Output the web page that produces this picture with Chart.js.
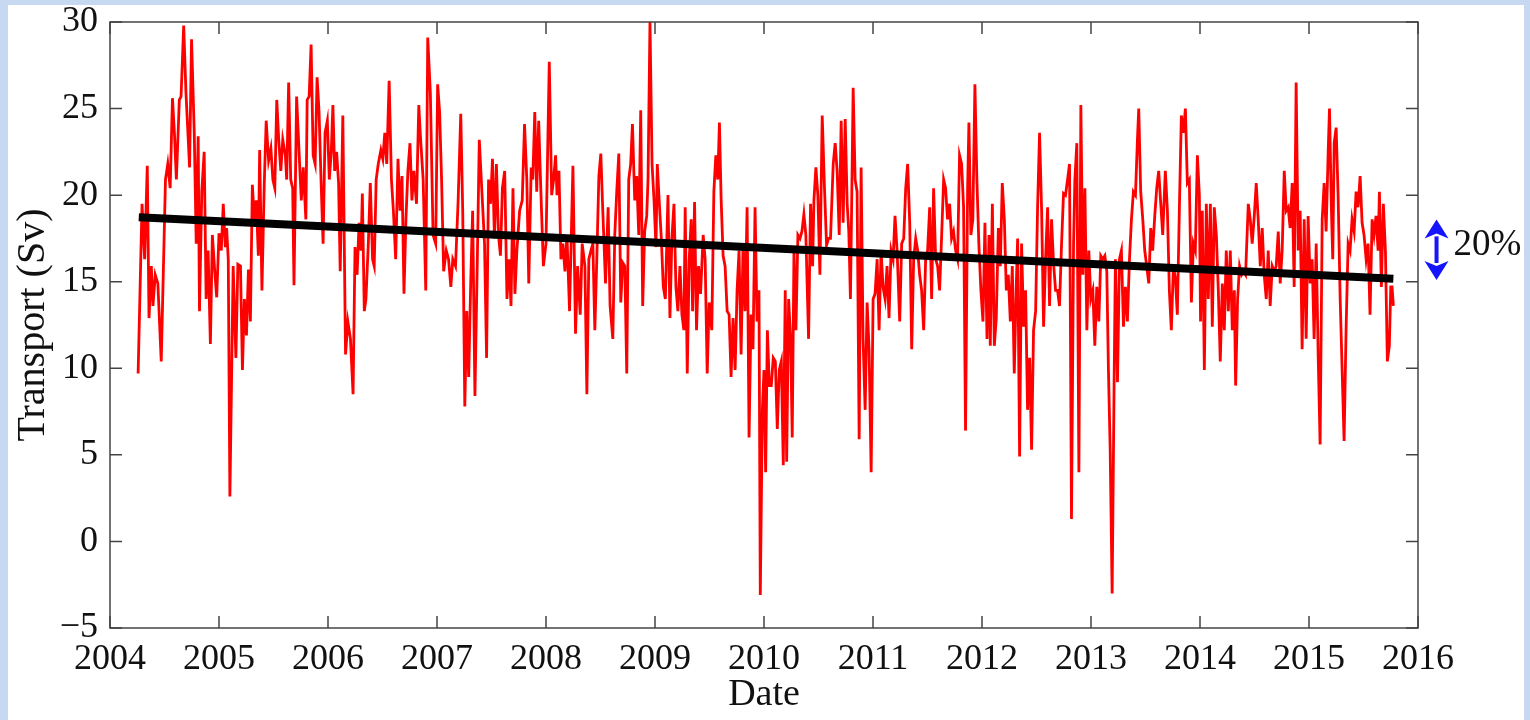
<!DOCTYPE html>
<html lang="en">
<head>
    <meta charset="UTF-8">
    <title>Transport (Sv) 2004-2016</title>
    <script src="https://cdn.jsdelivr.net/npm/chart.js"></script>
    <style>
        body { margin: 0; width: 1530px; height: 720px; overflow: hidden; position: relative; background: #c6d9f1; }
        #panel { position: absolute; left: 8px; top: 5px; width: 1516px; height: 715px; background: #fff; }
        #chart { position: absolute; left: 0; top: 0; }
    </style>
</head>
<body>
    <div id="panel"></div>
    <canvas id="chart" width="1530" height="720"></canvas>
    <script>
        // Transport time series (decimal years / Sv)
        const dates = [
            // 2004
            2004.258, 2004.294, 2004.318, 2004.342, 2004.358, 2004.379, 2004.394, 2004.415, 2004.439, 2004.470,
            2004.509, 2004.530, 2004.552, 2004.573, 2004.591, 2004.609, 2004.636, 2004.652, 2004.676, 2004.697,
            2004.718, 2004.730, 2004.748, 2004.773, 2004.791, 2004.809, 2004.821, 2004.842, 2004.864, 2004.882,
            2004.900, 2004.921, 2004.939, 2004.961, 2004.979,
            // 2005
            2005.000, 2005.021, 2005.039, 2005.058, 2005.070, 2005.085, 2005.100, 2005.130, 2005.155, 2005.173,
            2005.197, 2005.215, 2005.233, 2005.252, 2005.270, 2005.288, 2005.306, 2005.324, 2005.342, 2005.361,
            2005.373, 2005.394, 2005.415, 2005.433, 2005.455, 2005.476, 2005.494, 2005.512, 2005.530, 2005.548,
            2005.567, 2005.585, 2005.609, 2005.621, 2005.639, 2005.658, 2005.676, 2005.688, 2005.712, 2005.736,
            2005.755, 2005.773, 2005.797, 2005.809, 2005.827, 2005.845, 2005.864, 2005.882, 2005.900, 2005.918,
            2005.936, 2005.955, 2005.973, 2005.994,
            // 2006
            2006.012, 2006.030, 2006.045, 2006.061, 2006.079, 2006.097, 2006.112, 2006.136, 2006.161, 2006.182,
            2006.206, 2006.230, 2006.248, 2006.267, 2006.285, 2006.303, 2006.315, 2006.333, 2006.348, 2006.370,
            2006.388, 2006.409, 2006.424, 2006.442, 2006.461, 2006.485, 2006.503, 2006.521, 2006.539, 2006.561,
            2006.582, 2006.600, 2006.621, 2006.642, 2006.661, 2006.679, 2006.697, 2006.715, 2006.733, 2006.752,
            2006.770, 2006.788, 2006.812, 2006.833, 2006.848, 2006.873, 2006.897, 2006.915, 2006.939, 2006.964,
            2006.988,
            // 2007
            2007.006, 2007.024, 2007.042, 2007.061, 2007.085, 2007.106, 2007.127, 2007.145, 2007.170, 2007.194,
            2007.218, 2007.236, 2007.255, 2007.273, 2007.291, 2007.309, 2007.327, 2007.348, 2007.370, 2007.388,
            2007.412, 2007.436, 2007.455, 2007.473, 2007.491, 2007.509, 2007.527, 2007.545, 2007.564, 2007.582,
            2007.600, 2007.621, 2007.642, 2007.661, 2007.679, 2007.697, 2007.715, 2007.733, 2007.758, 2007.782,
            2007.803, 2007.824, 2007.842, 2007.864, 2007.879, 2007.897, 2007.915, 2007.933, 2007.952, 2007.976,
            2008.000,
            // 2008
            2008.030, 2008.052, 2008.070, 2008.088, 2008.101, 2008.119, 2008.137, 2008.155, 2008.174, 2008.192,
            2008.216, 2008.247, 2008.271, 2008.290, 2008.314, 2008.332, 2008.357, 2008.375, 2008.393, 2008.412,
            2008.430, 2008.448, 2008.466, 2008.485, 2008.503, 2008.521, 2008.546, 2008.570, 2008.588, 2008.613,
            2008.631, 2008.649, 2008.668, 2008.686, 2008.704, 2008.723, 2008.741, 2008.759, 2008.777, 2008.793,
            2008.814, 2008.832, 2008.851, 2008.869, 2008.887, 2008.905, 2008.924, 2008.936, 2008.954, 2008.973,
            2008.991,
            // 2009
            2009.009, 2009.021, 2009.040, 2009.058, 2009.076, 2009.095, 2009.119, 2009.137, 2009.155, 2009.174,
            2009.192, 2009.210, 2009.229, 2009.247, 2009.265, 2009.277, 2009.296, 2009.314, 2009.332, 2009.345,
            2009.363, 2009.381, 2009.399, 2009.418, 2009.442, 2009.460, 2009.479, 2009.497, 2009.521, 2009.540,
            2009.558, 2009.576, 2009.591, 2009.607, 2009.625, 2009.643, 2009.662, 2009.680, 2009.698, 2009.716,
            2009.735, 2009.753, 2009.771, 2009.790, 2009.808, 2009.826, 2009.845, 2009.863, 2009.881, 2009.899,
            2009.918, 2009.936, 2009.954, 2009.966, 2009.985,
            // 2010
            2010.000, 2010.015, 2010.031, 2010.049, 2010.067, 2010.085, 2010.104, 2010.122, 2010.140, 2010.159,
            2010.177, 2010.195, 2010.208, 2010.226, 2010.244, 2010.259, 2010.275, 2010.293, 2010.311, 2010.330,
            2010.348, 2010.366, 2010.384, 2010.409, 2010.427, 2010.446, 2010.458, 2010.476, 2010.494, 2010.513,
            2010.534, 2010.555, 2010.574, 2010.592, 2010.610, 2010.635, 2010.653, 2010.671, 2010.690, 2010.708,
            2010.726, 2010.745, 2010.763, 2010.778, 2010.793, 2010.818, 2010.836, 2010.854, 2010.873, 2010.891,
            2010.909, 2010.928, 2010.946, 2010.964, 2010.983,
            // 2011
            2011.001, 2011.019, 2011.038, 2011.056, 2011.074, 2011.092, 2011.111, 2011.129, 2011.147, 2011.166,
            2011.184, 2011.202, 2011.221, 2011.245, 2011.263, 2011.282, 2011.300, 2011.318, 2011.337, 2011.355,
            2011.373, 2011.392, 2011.410, 2011.428, 2011.446, 2011.465, 2011.483, 2011.501, 2011.520, 2011.538,
            2011.556, 2011.575, 2011.593, 2011.611, 2011.630, 2011.648, 2011.666, 2011.684, 2011.703, 2011.721,
            2011.739, 2011.758, 2011.776, 2011.794, 2011.813, 2011.831, 2011.849, 2011.868, 2011.880, 2011.898,
            2011.916, 2011.935, 2011.953, 2011.971, 2011.990,
            // 2012
            2012.009, 2012.027, 2012.046, 2012.064, 2012.076, 2012.095, 2012.113, 2012.131, 2012.150, 2012.168,
            2012.186, 2012.205, 2012.223, 2012.241, 2012.260, 2012.278, 2012.296, 2012.315, 2012.327, 2012.345,
            2012.363, 2012.382, 2012.400, 2012.418, 2012.437, 2012.455, 2012.473, 2012.492, 2012.510, 2012.528,
            2012.547, 2012.565, 2012.583, 2012.602, 2012.620, 2012.638, 2012.656, 2012.675, 2012.693, 2012.711,
            2012.730, 2012.748, 2012.766, 2012.785, 2012.803, 2012.821, 2012.840, 2012.852, 2012.870, 2012.889,
            2012.907, 2012.925, 2012.944, 2012.962, 2012.980, 2012.998,
            // 2013
            2013.017, 2013.035, 2013.053, 2013.072, 2013.090, 2013.108, 2013.127, 2013.145, 2013.160, 2013.176,
            2013.194, 2013.212, 2013.224, 2013.243, 2013.261, 2013.279, 2013.298, 2013.316, 2013.334, 2013.353,
            2013.371, 2013.389, 2013.408, 2013.426, 2013.438, 2013.456, 2013.475, 2013.493, 2013.511, 2013.530,
            2013.548, 2013.566, 2013.585, 2013.603, 2013.621, 2013.640, 2013.658, 2013.682, 2013.701, 2013.719,
            2013.737, 2013.756, 2013.774, 2013.792, 2013.811, 2013.829, 2013.847, 2013.866, 2013.884, 2013.902,
            2013.921, 2013.939, 2013.957, 2013.976, 2013.994,
            // 2014
            2014.005, 2014.021, 2014.040, 2014.058, 2014.076, 2014.095, 2014.113, 2014.131, 2014.150, 2014.168,
            2014.186, 2014.205, 2014.223, 2014.241, 2014.260, 2014.278, 2014.296, 2014.315, 2014.327, 2014.345,
            2014.363, 2014.382, 2014.400, 2014.418, 2014.443, 2014.461, 2014.479, 2014.498, 2014.516, 2014.534,
            2014.553, 2014.571, 2014.589, 2014.608, 2014.626, 2014.644, 2014.663, 2014.681, 2014.699, 2014.718,
            2014.736, 2014.754, 2014.773, 2014.791, 2014.809, 2014.827, 2014.846, 2014.864, 2014.882, 2014.901,
            2014.919, 2014.937, 2014.956, 2014.974, 2014.992,
            // 2015
            2015.011, 2015.029, 2015.047, 2015.066, 2015.084, 2015.102, 2015.121, 2015.139, 2015.157, 2015.176,
            2015.188, 2015.206, 2015.218, 2015.231, 2015.249, 2015.267, 2015.286, 2015.304, 2015.322, 2015.340,
            2015.359, 2015.377, 2015.395, 2015.414, 2015.432, 2015.450, 2015.469, 2015.487, 2015.505, 2015.524,
            2015.542, 2015.560, 2015.579, 2015.597, 2015.615, 2015.634, 2015.646, 2015.664, 2015.682, 2015.701,
            2015.719, 2015.737, 2015.750, 2015.762, 2015.774
        ];

        const transport = [
            // 2004
            9.7, 19.5, 16.3, 21.7, 12.9, 15.9, 13.6, 15.4, 14.9, 10.4,
            20.9, 21.8, 20.4, 25.6, 23.6, 20.9, 25.5, 25.7, 29.8, 25.9,
            23.2, 21.6, 29.0, 23.6, 17.2, 23.4, 13.3, 20.2, 22.5, 14.0,
            16.8, 11.4, 17.7, 15.6, 14.1,
            // 2005
            17.8, 16.8, 19.5, 17.0, 18.1, 16.3, 2.6, 15.9, 10.6, 16.0,
            15.9, 9.9, 14.0, 11.9, 15.7, 12.7, 20.6, 18.6, 19.7, 16.5,
            22.6, 14.5, 20.6, 24.3, 22.0, 22.7, 20.9, 20.4, 25.5, 23.2,
            21.4, 23.2, 22.3, 20.9, 26.5, 20.9, 20.4, 14.8, 25.7, 22.3,
            19.7, 21.6, 18.6, 25.5, 25.7, 28.7, 22.3, 21.8, 26.8, 24.8,
            20.9, 17.2, 23.6, 24.3,
            // 2006
            20.9, 22.5, 25.2, 21.4, 22.5, 20.7, 15.6, 24.6, 10.8, 12.7,
            11.7, 8.5, 17.0, 15.4, 18.4, 16.8, 20.1, 13.3, 14.0, 17.2,
            20.7, 16.3, 15.9, 20.9, 21.8, 22.6, 22.1, 23.6, 21.8, 26.6,
            20.9, 19.1, 16.3, 22.1, 19.1, 21.1, 14.3, 18.6, 21.4, 23.0,
            19.7, 21.4, 19.5, 25.2, 23.4, 20.9, 14.5, 29.1, 25.9, 17.7,
            17.2,
            // 2007
            26.4, 24.8, 20.9, 15.6, 16.8, 16.3, 14.7, 16.3, 15.9, 19.7,
            24.7, 19.1, 7.8, 13.3, 9.5, 14.9, 19.1, 8.4, 16.3, 23.2,
            20.2, 17.2, 10.6, 20.9, 19.5, 22.1, 17.5, 21.8, 17.7, 16.5,
            20.4, 21.4, 14.0, 16.3, 13.6, 20.4, 14.3, 16.8, 19.1, 19.7,
            24.1, 20.9, 14.9, 21.6, 20.9, 24.8, 20.2, 24.3, 20.4, 15.9,
            17.2,
            // 2008
            27.7, 20.0, 20.9, 22.3, 20.0, 21.4, 16.3, 17.2, 15.6, 17.7,
            13.3, 21.7, 12.0, 15.9, 13.1, 17.2, 15.9, 8.5, 16.3, 16.8,
            17.2, 12.2, 16.3, 21.1, 22.4, 19.1, 14.9, 19.3, 13.6, 11.7,
            17.7, 20.2, 22.4, 13.8, 16.1, 15.9, 9.7, 20.9, 21.8, 24.1,
            19.7, 21.1, 17.7, 24.9, 13.6, 17.9, 18.8, 20.9, 30.0, 21.8,
            19.7,
            // 2009
            17.0, 21.8, 19.5, 17.5, 14.7, 14.0, 20.0, 12.9, 17.5, 19.5,
            14.7, 13.3, 15.9, 13.1, 12.2, 19.3, 9.7, 16.3, 18.6, 13.3,
            19.6, 12.2, 15.9, 14.3, 17.7, 16.3, 9.7, 13.8, 12.2, 20.2,
            22.3, 20.9, 24.2, 19.7, 16.5, 15.9, 13.3, 13.1, 9.5, 12.9,
            9.9, 14.5, 16.8, 10.8, 17.2, 13.3, 19.3, 6.0, 13.1, 11.1,
            19.3, 12.7, 14.5, -3.1, 7.6,
            // 2010
            9.9, 4.0, 12.2, 9.0, 9.0, 10.6, 10.4, 6.5, 9.9, 10.4,
            4.4, 14.5, 4.6, 14.0, 11.7, 6.0, 16.8, 12.2, 17.7, 17.5,
            17.9, 18.9, 17.7, 11.7, 19.5, 15.9, 19.7, 21.6, 20.0, 15.4,
            24.6, 20.4, 17.1, 17.5, 17.5, 21.8, 23.0, 21.4, 17.7, 24.3,
            18.4, 24.4, 19.5, 17.9, 14.0, 26.2, 20.9, 20.2, 5.9, 21.6,
            11.7, 7.6, 13.8, 11.1, 4.0,
            // 2011
            14.0, 14.3, 16.3, 12.2, 16.8, 14.7, 14.0, 15.9, 12.9, 16.8,
            16.3, 18.8, 16.8, 12.7, 17.2, 17.5, 20.4, 21.8, 18.4, 11.1,
            16.3, 17.5, 16.8, 15.4, 14.5, 12.2, 16.3, 16.8, 19.3, 14.0,
            20.4, 16.3, 15.9, 14.5, 17.7, 20.9, 20.4, 18.6, 19.5, 17.5,
            17.9, 16.8, 16.3, 22.3, 21.8, 19.3, 6.4, 20.4, 24.2, 17.7,
            18.6, 26.4, 20.9, 17.2, 14.5,
            // 2012
            12.7, 18.4, 11.7, 17.7, 11.3, 19.5, 11.3, 12.9, 18.1, 15.9,
            20.7, 18.6, 14.5, 15.4, 12.7, 15.9, 9.7, 14.9, 17.5, 4.9,
            17.2, 12.4, 14.5, 7.6, 10.6, 5.3, 12.2, 13.3, 19.3, 23.6,
            19.1, 12.4, 16.3, 19.3, 13.6, 18.6, 16.1, 14.5, 14.5, 13.6,
            17.2, 20.1, 20.0, 20.9, 21.8, 1.3, 17.2, 20.9, 23.0, 4.0,
            25.2, 15.4, 20.4, 12.2, 16.8, 14.0,
            // 2013
            14.5, 11.3, 14.7, 12.7, 16.5, 16.3, 16.5, 15.6, 9.9, 5.3,
            -3.0, 9.2, 16.3, 9.2, 16.3, 16.8, 12.4, 14.7, 12.7, 16.3,
            18.6, 20.2, 20.0, 23.2, 25.0, 20.2, 18.6, 16.8, 15.9, 14.9,
            18.1, 16.8, 18.8, 20.4, 21.4, 19.5, 17.7, 21.4, 19.1, 14.5,
            12.2, 15.9, 15.2, 13.1, 19.3, 24.6, 23.6, 25.0, 20.7, 20.9,
            13.8, 17.2, 16.8, 22.3, 20.0,
            // 2014
            12.7, 19.1, 9.9, 19.5, 14.0, 19.5, 12.4, 19.3, 17.7, 14.5,
            10.4, 14.9, 12.2, 16.8, 13.3, 16.8, 12.2, 14.5, 9.0, 14.0,
            15.9, 15.4, 15.6, 15.4, 19.5, 18.6, 17.2, 18.8, 20.7, 18.6,
            15.9, 18.1, 15.4, 14.0, 16.8, 13.6, 15.9, 15.6, 15.9, 17.9,
            14.9, 16.8, 21.4, 19.1, 19.3, 18.1, 20.7, 14.7, 26.5, 16.8,
            19.1, 11.1, 18.6, 11.7, 18.8,
            // 2015
            14.9, 16.3, 11.7, 17.2, 10.8, 5.6, 18.6, 20.7, 17.9, 22.5,
            25.0, 19.1, 16.3, 23.0, 23.9, 20.0, 14.0, 9.9, 5.8, 12.2,
            17.2, 16.8, 18.6, 17.9, 20.2, 19.3, 21.1, 18.4, 17.7, 16.3,
            17.2, 13.1, 18.6, 17.7, 18.8, 16.8, 20.2, 14.7, 19.5, 16.8,
            10.4, 11.3, 14.7, 14.7, 13.6
        ];

        // linear trend drawn over the series
        const trendDates = [2004.264, 2015.774];
        const trendValues = [18.72, 15.17];

        // the "20%" marker on the right of the axes
        const arrowDate = 2016.17;
        const arrowRange = [18.6, 15.1];
        const arrowLabel = '20%';

        const xTicks = { min: 2004, max: 2016, step: 1 };
        const yTicks = { min: -5, max: 30, step: 5 };

        const FONT = "'Liberation Serif', 'Times New Roman', serif";

        // MATLAB style box with inward ticks on all four sides
        const boxPlugin = {
            id: 'box',
            afterDatasetsDraw(chart) {
                const { ctx, chartArea: a, scales: { x, y } } = chart;
                ctx.save();
                ctx.strokeStyle = '#444444';
                ctx.lineWidth = 1.5;
                ctx.strokeRect(a.left, a.top, a.right - a.left, a.bottom - a.top);
                ctx.beginPath();
                y.ticks.forEach(t => {
                    const py = y.getPixelForValue(t.value);
                    ctx.moveTo(a.left, py); ctx.lineTo(a.left + 12, py);
                    ctx.moveTo(a.right, py); ctx.lineTo(a.right - 12, py);
                });
                x.ticks.forEach(t => {
                    const px = x.getPixelForValue(t.value);
                    ctx.moveTo(px, a.bottom); ctx.lineTo(px, a.bottom - 12);
                    ctx.moveTo(px, a.top); ctx.lineTo(px, a.top + 12);
                });
                ctx.stroke();
                ctx.restore();
            }
        };

        const arrowPlugin = {
            id: 'arrow',
            afterDraw(chart) {
                const { ctx, scales: { x, y } } = chart;
                const px = x.getPixelForValue(arrowDate);
                const top = y.getPixelForValue(arrowRange[0]);
                const bot = y.getPixelForValue(arrowRange[1]);
                const hw = 12, hh = 19;
                ctx.save();
                ctx.strokeStyle = ctx.fillStyle = '#1414ff';
                ctx.lineWidth = 4;
                ctx.beginPath();
                ctx.moveTo(px, top + hh - 2);
                ctx.lineTo(px, bot - hh + 2);
                ctx.stroke();
                ctx.beginPath();
                ctx.moveTo(px, top);
                ctx.lineTo(px + hw, top + hh);
                ctx.lineTo(px, top + hh - 5);
                ctx.lineTo(px - hw, top + hh);
                ctx.closePath();
                ctx.moveTo(px, bot);
                ctx.lineTo(px + hw, bot - hh);
                ctx.lineTo(px, bot - hh + 5);
                ctx.lineTo(px - hw, bot - hh);
                ctx.closePath();
                ctx.fill();
                ctx.fillStyle = '#111';
                ctx.font = '37px ' + FONT;
                ctx.textBaseline = 'middle';
                ctx.fillText(arrowLabel, px + 17, (top + bot) / 2 - 4);
                ctx.restore();
            }
        };

        const ctx = document.getElementById('chart').getContext('2d');
        const chart = new Chart(ctx, {
            type: 'line',
            data: {
                datasets: [
                    {
                        label: 'Trend',
                        data: trendDates.map((d, i) => ({ x: d, y: trendValues[i] })),
                        borderColor: '#000000',
                        borderWidth: 8,
                        borderCapStyle: 'butt'
                    },
                    {
                        label: 'Transport',
                        data: dates.map((d, i) => ({ x: d, y: transport[i] })),
                        borderColor: '#ff0000',
                        borderWidth: 2.8
                    }
                ]
            },
            options: {
                responsive: false,
                animation: false,
                devicePixelRatio: 1,
                layout: { padding: { left: 0, right: 112, top: 22, bottom: 0 } },
                plugins: { legend: { display: false }, tooltip: { enabled: false } },
                elements: { point: { radius: 0 }, line: { tension: 0 } },
                scales: {
                    x: {
                        type: 'linear',
                        min: xTicks.min,
                        max: xTicks.max,
                        grid: { display: false },
                        border: { display: false },
                        ticks: {
                            stepSize: xTicks.step,
                            autoSkip: false,
                            maxRotation: 0,
                            padding: 6,
                            color: '#111',
                            font: { family: FONT, size: 36, lineHeight: 1 },
                            callback: v => String(v)
                        },
                        title: {
                            display: true,
                            text: 'Date',
                            color: '#111',
                            font: { family: FONT, size: 38, lineHeight: 1.2 },
                            padding: { top: 0, bottom: 2 }
                        },
                        afterFit: s => { s.height = 92; }
                    },
                    y: {
                        min: yTicks.min,
                        max: yTicks.max,
                        grid: { display: false },
                        border: { display: false },
                        ticks: {
                            stepSize: yTicks.step,
                            padding: 4,
                            color: '#111',
                            font: { family: FONT, size: 36, lineHeight: 1 },
                            callback: v => v < 0 ? '\u2212' + Math.abs(v) : String(v)
                        },
                        title: {
                            display: true,
                            text: 'Transport (Sv)',
                            color: '#111',
                            font: { family: FONT, size: 40, lineHeight: 1.2 },
                            padding: { top: 9, bottom: 0 }
                        },
                        afterFit: s => { s.width = 110; }
                    }
                }
            },
            plugins: [boxPlugin, arrowPlugin]
        });
    </script>
</body>
</html>
